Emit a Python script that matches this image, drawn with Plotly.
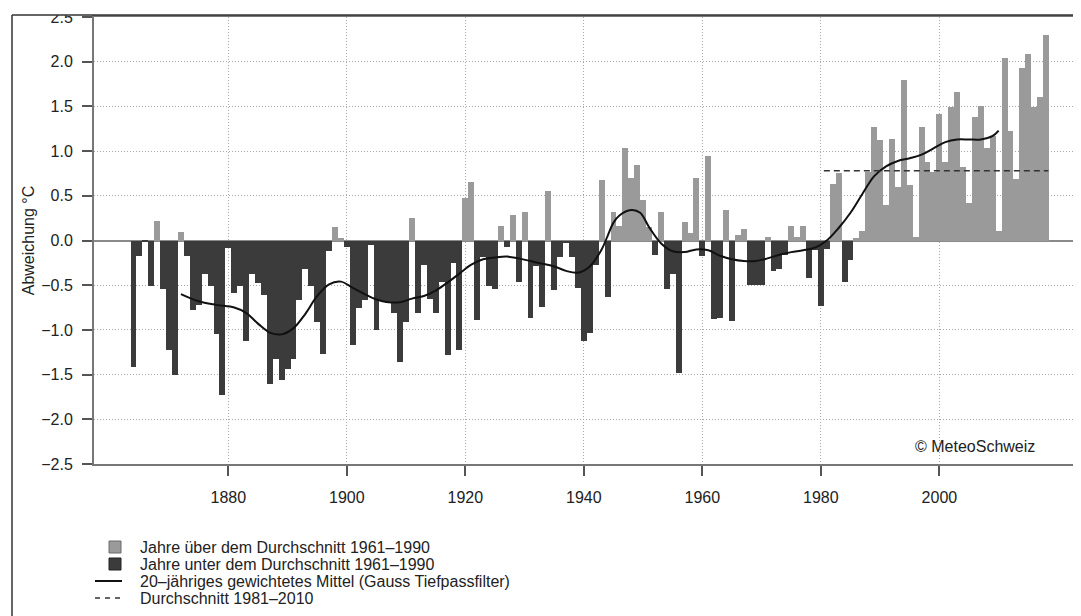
import plotly.graph_objects as go

# ---------------- data ----------------
YEARS = list(range(1864, 2019))
ANOMALY = [
    -1.42, -0.17, -0.01, -0.51, 0.22, -0.54, -1.22, -1.50, 0.10, -0.17,   # 1864-1873
    -0.78, -0.72, -0.37, -0.51, -1.05, -1.73, -0.08, -0.59, -0.51, -1.12,  # 1874-1883
    -0.38, -0.47, -0.61, -1.61, -1.33, -1.56, -1.44, -1.33, -0.66, -0.32,  # 1884-1893
    -0.51, -0.91, -1.27, -0.12, 0.15, 0.03, -0.07, -1.17, -0.75, -0.67,    # 1894-1903
    -0.05, -1.00, -0.68, -0.70, -0.81, -1.36, -0.91, 0.25, -0.81, -0.27,   # 1904-1913
    -0.65, -0.81, -0.46, -1.28, -0.25, -1.22, 0.47, 0.65, -0.89, -0.18,    # 1914-1923
    -0.51, -0.54, 0.16, -0.07, 0.28, -0.46, 0.32, -0.87, -0.29, -0.74,     # 1924-1933
    0.55, -0.55, -0.18, -0.03, -0.18, -0.53, -1.12, -1.03, -0.27, 0.68,    # 1934-1943
    -0.63, 0.32, 0.16, 1.04, 0.70, 0.85, 0.45, 0.15, -0.16, 0.32,          # 1944-1953
    -0.54, -0.38, -1.48, 0.21, 0.08, 0.70, -0.17, 0.95, -0.88, -0.87,      # 1954-1963
    0.34, -0.90, 0.06, 0.13, -0.50, -0.50, -0.50, 0.04, -0.34, -0.32,      # 1964-1973
    -0.16, 0.16, 0.04, 0.16, -0.42, -0.11, -0.73, -0.09, 0.63, 0.76,       # 1974-1983
    -0.46, -0.22, 0.03, 0.11, 0.77, 1.27, 1.12, 0.40, 1.14, 0.60,          # 1984-1993
    1.80, 0.62, 0.04, 1.27, 0.88, 0.77, 1.41, 0.88, 1.49, 1.66,            # 1994-2003
    0.82, 0.42, 1.38, 1.50, 1.04, 1.17, 0.11, 2.04, 1.23, 0.69,            # 2004-2013
    1.93, 2.09, 1.49, 1.60, 2.30,                                          # 2014-2018
]

SMOOTH_YEARS = [1872, 1875, 1878, 1881, 1883, 1885, 1887, 1889, 1891, 1893,
                1895, 1897, 1899, 1901, 1903, 1905, 1907, 1909, 1911, 1913,
                1915, 1917, 1919, 1921, 1923, 1925, 1927, 1929, 1931, 1933,
                1935, 1937, 1939, 1941, 1943, 1944, 1945, 1946, 1948, 1949.5,
                1951, 1953, 1955, 1957, 1959, 1961, 1963, 1965, 1967, 1969,
                1971, 1973, 1975, 1977, 1979, 1981, 1983, 1985, 1987, 1989,
                1991, 1993, 1995, 1997, 1999, 2001, 2003, 2005, 2007, 2009, 2010]
SMOOTH_VALUES = [-0.60, -0.68, -0.72, -0.75, -0.81, -0.93, -1.03, -1.05, -0.98, -0.82,
                 -0.62, -0.49, -0.46, -0.53, -0.60, -0.66, -0.69, -0.69, -0.65, -0.62,
                 -0.56, -0.47, -0.37, -0.27, -0.21, -0.19, -0.18, -0.20, -0.23, -0.26,
                 -0.29, -0.34, -0.36, -0.29, -0.10, 0.05, 0.20, 0.28, 0.34, 0.31,
                 0.15, -0.03, -0.12, -0.13, -0.10, -0.11, -0.17, -0.21, -0.23, -0.23,
                 -0.20, -0.16, -0.13, -0.11, -0.08, 0.00, 0.14, 0.31, 0.52, 0.72,
                 0.83, 0.89, 0.92, 0.96, 1.03, 1.10, 1.13, 1.13, 1.13, 1.17, 1.23]

MEAN_8110 = 0.78
MEAN_PERIOD = [1980.5, 2018.4]

X_TICKS = [1880, 1900, 1920, 1940, 1960, 1980, 2000]
Y_TICKS = [-2.5, -2.0, -1.5, -1.0, -0.5, 0.0, 0.5, 1.0, 1.5, 2.0, 2.5]

LEGEND_LABELS = [
    "Jahre über dem Durchschnitt 1961–1990",
    "Jahre unter dem Durchschnitt 1961–1990",
    "20–jähriges gewichtetes Mittel (Gauss Tiefpassfilter)",
    "Durchschnitt 1981–2010",
]
Y_TITLE = "Abweichung °C"
CREDIT = "© MeteoSchweiz"

# ---------------- styling ----------------
# The page body has an 8px default margin; the figure is sized so that it
# fills the 1081x616 window exactly from that offset.
OFF = 8
W, H = 1081 - OFF, 616 - OFF
ML, MR, MT, MB = 94 - OFF, 0, 17 - OFF, 616 - 464
PW = W - ML - MR
PH = H - MT - MB
FONT = "Liberation Sans, Arial, Helvetica, sans-serif"
TXT = "#222222"
LIGHT = "#9a9a9a"
DARK = "#3b3b3b"
AXIS = "#777777"
GRID = "#a8a8a8"


def px2x(px):
    """screen px -> paper x"""
    return (px - OFF - ML) / PW


def px2y(py):
    """screen px -> paper y"""
    return (H - MB - (py - OFF)) / PH


up_x = [y for y, v in zip(YEARS, ANOMALY) if v >= 0]
up_v = [v for v in ANOMALY if v >= 0]
dn_x = [y for y, v in zip(YEARS, ANOMALY) if v < 0]
dn_v = [v for v in ANOMALY if v < 0]

fig = go.Figure()
fig.add_trace(go.Bar(x=up_x, y=up_v, width=1, marker=dict(color=LIGHT, line=dict(width=0)),
                     name=LEGEND_LABELS[0], hoverinfo="x+y"))
fig.add_trace(go.Bar(x=dn_x, y=dn_v, width=1, marker=dict(color=DARK, line=dict(width=0)),
                     name=LEGEND_LABELS[1], hoverinfo="x+y"))
fig.add_trace(go.Scatter(x=SMOOTH_YEARS, y=SMOOTH_VALUES, mode="lines",
                         line=dict(color="#111111", width=2, shape="spline", smoothing=1.0),
                         name=LEGEND_LABELS[2]))
fig.add_trace(go.Scatter(x=MEAN_PERIOD, y=[MEAN_8110, MEAN_8110], mode="lines",
                         line=dict(color="#333333", width=1.5, dash="6px,4px"),
                         name=LEGEND_LABELS[3]))

# x range so that the plot area starts at the left axis line
x_left = 1857.33
x_right = 2023.9

fig.update_layout(
    width=W, height=H,
    margin=dict(l=ML, r=MR, t=MT, b=MB, pad=0, autoexpand=False),
    paper_bgcolor="white", plot_bgcolor="white",
    barmode="overlay", bargap=0,
    showlegend=False,
    font=dict(family=FONT, size=16, color=TXT),
    xaxis=dict(
        range=[x_left, x_right], tickmode="array", tickvals=X_TICKS,
        ticks="outside", ticklen=10, tickwidth=1.5, tickcolor="#555555",
        showline=True, linecolor=AXIS, linewidth=2, mirror=True,
        showgrid=True, gridcolor=GRID, griddash="1px,2px", gridwidth=1,
        zeroline=False, tickfont=dict(size=16, color=TXT),
        ticklabelstandoff=8, automargin=False,
    ),
    yaxis=dict(
        range=[-2.5, 2.5], tickmode="array", tickvals=Y_TICKS, tickformat=".1f",
        ticks="outside", ticklen=10, tickwidth=1.5, tickcolor="#555555",
        showline=True, linecolor=AXIS, linewidth=2, mirror=True,
        showgrid=True, gridcolor=GRID, griddash="1px,2px", gridwidth=1,
        zeroline=True, zerolinecolor="#8a8a8a", zerolinewidth=2,
        tickfont=dict(size=16, color=TXT),
        ticklabelstandoff=6, automargin=False,
        title=dict(text=Y_TITLE, font=dict(size=16, color=TXT), standoff=3),
    ),
)

shapes = []
annotations = []

# legend (drawn manually, compact line spacing like the original)
rows_y = [547, 564, 581, 598]
shapes.append(dict(type="rect", xref="paper", yref="paper",
                   x0=px2x(109), x1=px2x(121), y0=px2y(rows_y[0] - 6), y1=px2y(rows_y[0] + 6),
                   fillcolor=LIGHT, line=dict(color="#6a6a6a", width=1)))
shapes.append(dict(type="rect", xref="paper", yref="paper",
                   x0=px2x(109), x1=px2x(121), y0=px2y(rows_y[1] - 6), y1=px2y(rows_y[1] + 6),
                   fillcolor=DARK, line=dict(color="#222222", width=1)))
shapes.append(dict(type="line", xref="paper", yref="paper",
                   x0=px2x(95), x1=px2x(122), y0=px2y(rows_y[2]), y1=px2y(rows_y[2]),
                   line=dict(color="#111111", width=2)))
shapes.append(dict(type="line", xref="paper", yref="paper",
                   x0=px2x(95), x1=px2x(122), y0=px2y(rows_y[3]), y1=px2y(rows_y[3]),
                   line=dict(color="#333333", width=1.5, dash="5px,5px")))
for lbl, ry in zip(LEGEND_LABELS, rows_y):
    annotations.append(dict(text=lbl, xref="paper", yref="paper", x=px2x(138), y=px2y(ry),
                            xanchor="left", yanchor="middle", showarrow=False,
                            font=dict(size=16, color=TXT, family=FONT)))

# credit
annotations.append(dict(text=CREDIT, xref="paper", yref="paper", x=px2x(1037), y=px2y(446),
                        xanchor="right", yanchor="middle", showarrow=False,
                        font=dict(size=16, color=TXT, family=FONT)))

# cropped outer frame of the original picture (top + left edge)
shapes.append(dict(type="rect", xref="paper", yref="paper", layer="above",
                   x0=px2x(0), x1=px2x(1090), y0=px2y(15), y1=px2y(0),
                   fillcolor="white", line=dict(width=0)))
shapes.append(dict(type="line", xref="paper", yref="paper", layer="above",
                   x0=px2x(12), x1=px2x(1090), y0=px2y(15), y1=px2y(15),
                   line=dict(color="#333333", width=1.5)))
shapes.append(dict(type="line", xref="paper", yref="paper", layer="above",
                   x0=px2x(12), x1=px2x(12), y0=px2y(15), y1=px2y(620),
                   line=dict(color="#333333", width=1.5)))

fig.update_layout(shapes=shapes, annotations=annotations)

fig.write_html("out.html")
